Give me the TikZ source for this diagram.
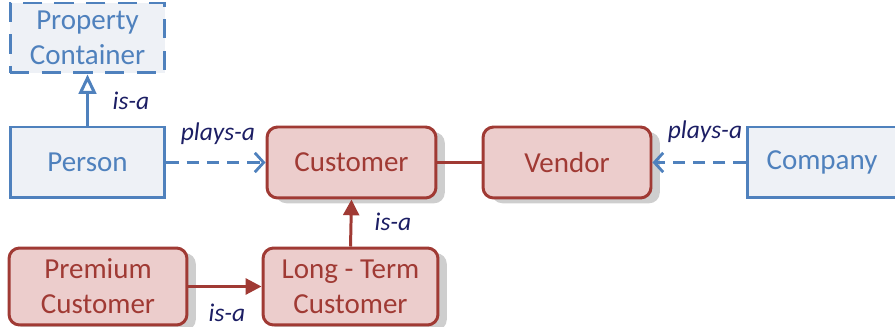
\documentclass[tikz,border=0pt]{standalone}
\usepackage{fontspec}
\setmainfont{Carlito}
\usepackage{tikz}
\usetikzlibrary{positioning,arrows.meta,shadows}

\definecolor{roleblue}{RGB}{79,129,189}
\definecolor{rolefill}{RGB}{238,241,246}
\definecolor{custred}{RGB}{160,58,52}
\definecolor{custfill}{RGB}{236,205,204}
\definecolor{relnavy}{RGB}{28,30,100}
\definecolor{shadegray}{RGB}{206,206,206}

\begin{document}
\begin{tikzpicture}[
  x=0.02cm, y=-0.02cm,
  base/.style={inner sep=0pt, align=center, font=\fontsize{16.5}{20}\selectfont},
  party/.style={base, draw=roleblue, fill=rolefill, text=roleblue, line width=1.7pt},
  abstract/.style={party, dash pattern=on 11pt off 7pt},
  role/.style={base, draw=custred, fill=custfill, text=custred, line width=1.7pt,
    rounded corners=6pt,
    drop shadow={shadow xshift=5pt, shadow yshift=-3pt, fill=shadegray, opacity=1}},
  rel/.style={font=\fontsize{14.5}{16}\selectfont\itshape, text=relnavy},
  plays/.style={draw=roleblue, line width=1.7pt, dash pattern=on 7pt off 4.5pt,
    -{Straight Barb[length=5pt, width=11pt, line width=1.6pt]}},
  isa/.style={draw=custred, line width=1.7pt, -{Triangle[length=9pt, width=9pt]}}
]
  \useasboundingbox (0,0) rectangle (895,327);

  % Parties
  \node[abstract, minimum width=3.1cm, minimum height=1.4cm] (propc) at (87.5,38)
    {Property\\Container};
  \node[party, minimum width=3.1cm, minimum height=1.42cm] (person) at (87.5,162.5)
    {Person};
  \node[party, minimum width=3.0cm, minimum height=1.42cm] (company) at (822,162.5)
    {Company};

  % Roles
  \node[role, minimum width=3.38cm, minimum height=1.42cm] (cust) at (351.5,162.5)
    {Customer};
  \node[role, minimum width=3.36cm, minimum height=1.42cm] (vendor) at (567,162.5)
    {Vendor};
  \node[role, minimum width=3.56cm, minimum height=1.54cm] (premium) at (98,286.5)
    {Premium\\Customer};
  \node[role, minimum width=3.5cm, minimum height=1.54cm] (longterm) at (350.5,286.5)
    {Long - Term\\Customer};

  % Generalisation
  \draw[roleblue, line width=1.7pt, -{Triangle[open, length=11pt, width=10pt, fill=white]}]
    (person.north) -- (propc.south);
  \node[rel] (isaperson) at (131,101) {is-a};

  % Role playing
  \draw[plays] (person.east) -- (cust.west);
  \node[rel] (playsperson) at (218,134) {plays-a};
  \draw[plays] (company.west) -- (vendor.east);
  \node[rel] (playscompany) at (705,132) {plays-a};

  % Customer to vendor
  \draw[custred, line width=1.4pt] (cust.east) -- (vendor.west);

  % Customer specialisations
  \draw[isa] (longterm.north) -- (cust.south);
  \node[rel] (isalong) at (393,222) {is-a};
  \draw[isa] (premium.east) -- (longterm.west);
  \node[rel] (isapremium) at (227,313) {is-a};
\end{tikzpicture}
\end{document}
